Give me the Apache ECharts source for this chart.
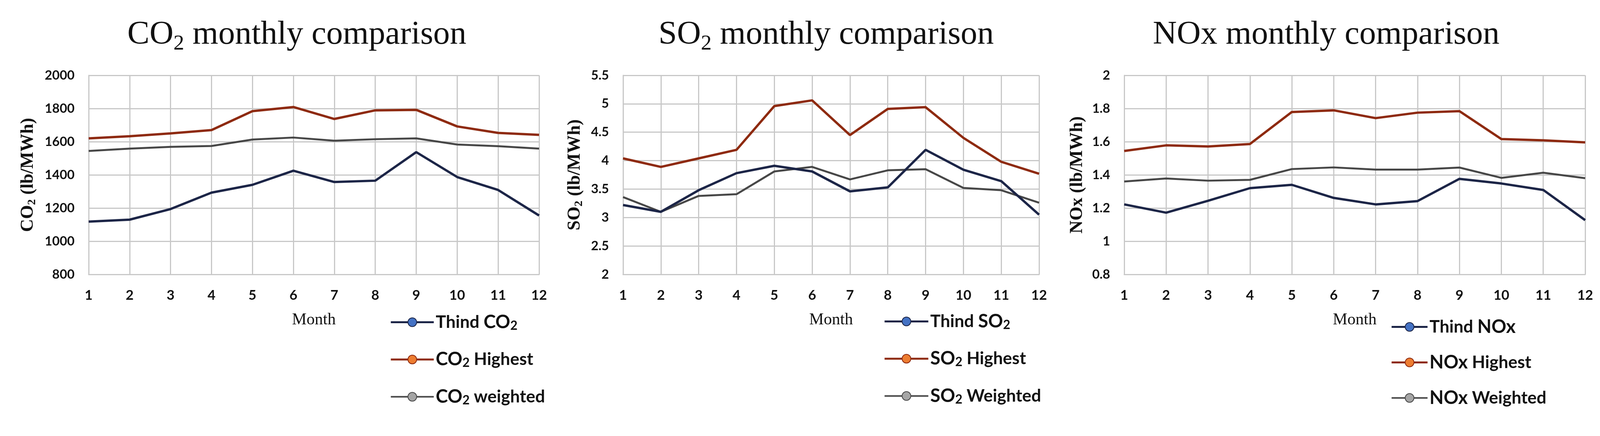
<!DOCTYPE html>
<html>
<head>
<meta charset="utf-8">
<script src="https://cdn.jsdelivr.net/npm/echarts@6/dist/echarts.min.js"></script>
<style>
html,body{margin:0;padding:0;background:#fff;}
#chart{width:4158px;height:1117px;}
</style>
</head>
<body>
<div id="chart"></div>
<script>
// ---- data ----
const months = ['1','2','3','4','5','6','7','8','9','10','11','12'];

const co2Thind    = [1118,1130,1194,1293,1340,1425,1357,1365,1537,1387,1309,1155];
const co2Highest  = [1620,1633,1650,1670,1784,1809,1737,1789,1792,1692,1653,1641];
const co2Weighted = [1544,1558,1569,1574,1613,1625,1606,1615,1620,1583,1573,1558];

const so2Thind    = [3.22,3.10,3.48,3.78,3.91,3.81,3.46,3.53,4.19,3.84,3.64,3.05];
const so2Highest  = [4.04,3.89,4.04,4.19,4.96,5.06,4.45,4.91,4.94,4.40,3.98,3.77];
const so2Weighted = [3.36,3.10,3.38,3.41,3.81,3.89,3.67,3.83,3.85,3.52,3.48,3.26];

const noxThind    = [1.222,1.172,1.244,1.320,1.340,1.261,1.222,1.242,1.376,1.348,1.309,1.127];
const noxHighest  = [1.544,1.578,1.571,1.586,1.779,1.789,1.742,1.775,1.784,1.616,1.608,1.596];
const noxWeighted = [1.360,1.378,1.365,1.370,1.435,1.445,1.432,1.432,1.444,1.382,1.413,1.380];

// axis ranges [min, max, interval]
const co2Axis = [800, 2000, 200];
const so2Axis = [2, 5.5, 0.5];
const noxAxis = [0.8, 2, 0.2];

const titles = ['CO2 monthly comparison', 'SO2 monthly comparison', 'NOx monthly comparison'];
const yNames = ['CO2 (lb/MWh)', 'SO2 (lb/MWh)', 'NOx (lb/MWh)'];
const xName = 'Month';
const legendNames = [
  ['Thind CO2', 'CO2 Highest', 'CO2 weighted'],
  ['Thind SO2', 'SO2 Highest', 'SO2 Weighted'],
  ['Thind NOx', 'NOx Highest', 'NOx Weighted']
];

// ---- styles ----
const lineColors = ['#1c2547', '#8e2a10', '#474747'];
const markColors = ['#4472c4', '#ed7d31', '#a5a5a5'];
const lineWidths = [6, 6, 5];
const legendLineWidths = [5, 5, 4];
const gridCol = '#c8c8c8';
const serif = '"Liberation Serif", "DejaVu Serif", serif';
const sans = 'Lato, "Open Sans", sans-serif';

function richify(str, mainKey, subKey, plainKey) {
  const parts = str.split(/((?:CO|SO)2|NOx)/);
  return parts.filter(p => p.length).map(p => {
    if (p === 'CO2' || p === 'SO2') return '{' + mainKey + '|' + p.slice(0,2) + '}{' + subKey + '|2}';
    if (p === 'NOx') return '{' + mainKey + '|NOx}';
    return '{' + plainKey + '|' + p + '}';
  }).join('');
}

const grids = [
  {left: 227, top: 193, width: 1153, height: 510},
  {left: 1595, top: 193, width: 1065, height: 510},
  {left: 2878, top: 193, width: 1180, height: 510}
];
const titleX = [760, 2115, 3395];
const yNameGap = [130, 98, 95];
const legendPos = [
  {left: 998, top: 802, itemWidth: 110, itemGap: 47},
  {left: 2262, top: 800, itemWidth: 112, itemGap: 47},
  {left: 3560, top: 814, itemWidth: 92, itemGap: 44}
];
const axes = [co2Axis, so2Axis, noxAxis];
const seriesData = [
  [co2Thind, co2Highest, co2Weighted],
  [so2Thind, so2Highest, so2Weighted],
  [noxThind, noxHighest, noxWeighted]
];

const option = {
  backgroundColor: '#ffffff',
  animation: false,
  title: titles.map((t, i) => ({
    text: richify(t, 'm', 's', 'p'),
    left: titleX[i],
    top: 40,
    textAlign: 'center',
    padding: 0,
    textStyle: {
      fontWeight: 'normal',
      rich: {
        m: {fontFamily: serif, fontSize: 85, fontWeight: 'normal', color: '#111', lineHeight: 100},
        p: {fontFamily: serif, fontSize: 85, fontWeight: 'normal', color: '#111', lineHeight: 100},
        s: {fontFamily: serif, fontSize: 55, fontWeight: 'normal', color: '#111', lineHeight: 54, verticalAlign: 'bottom'}
      }
    }
  })),
  legend: legendNames.map((names, i) => ({
    data: names.map((n, k) => ({name: n, lineStyle: {width: legendLineWidths[k], color: lineColors[k]}})),
    orient: 'vertical',
    left: legendPos[i].left,
    top: legendPos[i].top,
    itemWidth: legendPos[i].itemWidth,
    itemHeight: 28,
    itemGap: legendPos[i].itemGap,
    padding: 0,
    selectedMode: false,
    formatter: name => richify(name, 'b', 's', 'a'),
    textStyle: {
      rich: {
        a: {fontFamily: sans, fontSize: 44, fontWeight: 'bold', color: '#111', lineHeight: 50},
        b: {fontFamily: sans, fontSize: 47, fontWeight: 'bold', color: '#111', lineHeight: 50},
        s: {fontFamily: sans, fontSize: 32, fontWeight: 'bold', color: '#111', lineHeight: 28, verticalAlign: 'bottom'}
      }
    }
  })),
  grid: grids,
  xAxis: grids.map((g, i) => ({
    type: 'category',
    gridIndex: i,
    data: months,
    boundaryGap: false,
    name: xName,
    nameLocation: 'middle',
    nameGap: 96,
    nameTextStyle: {fontFamily: serif, fontSize: 42, color: '#111'},
    axisLine: {show: true, lineStyle: {color: gridCol, width: 3}},
    axisTick: {show: false},
    axisLabel: {fontFamily: sans, fontSize: 35, fontWeight: 'bold', color: '#111', margin: 36},
    splitLine: {show: true, lineStyle: {color: gridCol, width: 3}}
  })),
  yAxis: grids.map((g, i) => ({
    type: 'value',
    gridIndex: i,
    min: axes[i][0],
    max: axes[i][1],
    interval: axes[i][2],
    name: richify(yNames[i], 'm', 's', 'p'),
    nameLocation: 'middle',
    nameGap: yNameGap[i],
    nameMoveOverlap: false,
    nameTextStyle: {
      rich: {
        m: {fontFamily: serif, fontSize: 46, fontWeight: 'bold', color: '#111', lineHeight: 50},
        p: {fontFamily: serif, fontSize: 46, fontWeight: 'bold', color: '#111', lineHeight: 50},
        s: {fontFamily: serif, fontSize: 30, fontWeight: 'bold', color: '#111', lineHeight: 30, verticalAlign: 'bottom'}
      }
    },
    axisLine: {show: true, lineStyle: {color: gridCol, width: 3}},
    axisTick: {show: false},
    axisLabel: {
      fontFamily: sans, fontSize: 33, fontWeight: 'bold', color: '#111', margin: 36,
      formatter: v => String(Math.round(v * 1000) / 1000)
    },
    splitLine: {show: true, lineStyle: {color: gridCol, width: 3}}
  })),
  series: []
};

seriesData.forEach((group, gi) => {
  group.forEach((vals, si) => {
    option.series.push({
      type: 'line',
      name: legendNames[gi][si],
      xAxisIndex: gi,
      yAxisIndex: gi,
      data: vals,
      symbol: 'circle',
      showSymbol: false,
      symbolSize: 10,
      z: 10 - si,
      lineStyle: {color: lineColors[si], width: lineWidths[si]},
      itemStyle: {color: markColors[si], borderColor: lineColors[si], borderWidth: 2}
    });
  });
});

const chart = echarts.init(document.getElementById('chart'), null, {renderer: 'canvas'});
chart.setOption(option);
</script>
</body>
</html>
